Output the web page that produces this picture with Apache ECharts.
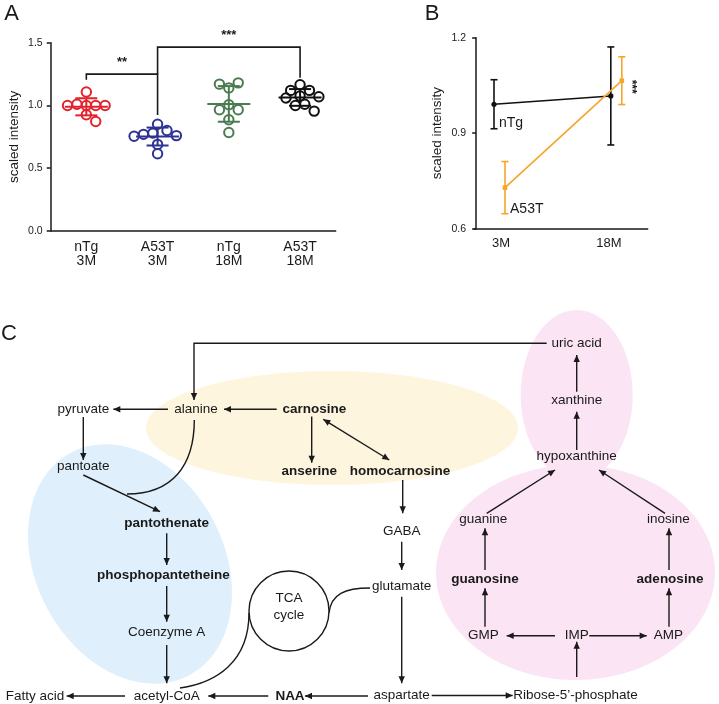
<!DOCTYPE html>
<html><head><meta charset="utf-8">
<script src="https://cdn.jsdelivr.net/npm/echarts@6/dist/echarts.min.js"></script>
<style>html,body{margin:0;padding:0;background:#fff}#c{width:719px;height:704px}</style>
</head><body><div id="c"></div>
<script>
// ---------- Panel A data ----------
const groupLabels = ['nTg\n3M', 'A53T\n3M', 'nTg\n18M', 'A53T\n18M'];
const nTg3M   = [1.107, 1.0, 1.0, 1.01, 1.0, 1.0, 0.926, 0.872];
const a53t3M  = [0.85, 0.80, 0.78, 0.77, 0.76, 0.755, 0.69, 0.615];
const nTg18M  = [1.14, 1.18, 1.17, 1.006, 0.966, 0.966, 0.886, 0.785];
const a53t18M = [1.165, 1.12, 1.12, 1.075, 1.07, 1.06, 1.01, 1.0, 0.955];
const yTicksA = [0, 0.5, 1.0, 1.5];
// significance brackets (category indices, levels)
const bracketFrom  = [0, 1];
const bracketTo    = [1, 3];
const bracketLevel = [1.25, 1.465];
const bracketLeftEnd  = [1.205, 1.25];
const bracketRightEnd = [0.925, 1.22];
const bracketLabels = ['**', '***'];

// ---------- Panel B data ----------
const monthsB = [3, 18];
const monthLabelsB = ['3M', '18M'];
const nTgMeanB = [0.991, 1.017];
const nTgErrB  = [0.077, 0.154];
const a53tMeanB = [0.729, 1.065];
const a53tErrB  = [0.082, 0.075];
const seriesNamesB = ['nTg', 'A53T'];
const sigLabelB = '***';

const FONT = '"Liberation Sans", Arial, Helvetica, sans-serif';
const INK = '#1a1a1a';
const groupsData = [nTg3M, a53t3M, nTg18M, a53t18M];
const colorsA = ['#e3232c', '#2e3393', '#4b7c50', '#111111'];
const colorsB = ['#111111', '#f5a52b'];

function mean(a){ return a.reduce((s,v)=>s+v,0)/a.length; }
function sd(a){ const m=mean(a); return Math.sqrt(a.reduce((s,v)=>s+(v-m)*(v-m),0)/(a.length-1)); }

function swarm(api, g){
  const vals = groupsData[g];
  const placed = [];
  const D = 8.8, step = 4.7;
  vals.forEach(v => {
    const p = api.coord([g, v]);
    for (let k = 0; k < 60; k++){
      const off = (k % 2 === 1 ? 1 : -1) * Math.ceil(k/2) * step;
      const x = p[0] + off;
      if (placed.every(q => Math.hypot(q[0]-x, q[1]-p[1]) >= D)) { placed.push([x, p[1]]); break; }
    }
  });
  return placed;
}

const series = [];
groupsData.forEach((vals, g) => {
  series.push({
    type: 'custom', xAxisIndex: 0, yAxisIndex: 0, z: 3,
    data: vals.map((v, i) => [g, v, i]),
    renderItem: function(params, api){
      const pts = swarm(api, g);
      const p = pts[params.dataIndex];
      return {type:'circle', shape:{cx:p[0], cy:p[1], r:4.7},
        style:{fill:'none', stroke:colorsA[g], lineWidth:2}};
    }
  });
});
// mean +- SD
series.push({
  type:'custom', xAxisIndex:0, yAxisIndex:0, z:4,
  data: groupsData.map((vals, g) => [g, mean(vals), sd(vals)]),
  renderItem: function(params, api){
    const g = api.value(0), m = api.value(1), s = api.value(2);
    const c = api.coord([g, m]), t = api.coord([g, m+s]), b = api.coord([g, m-s]);
    const col = colorsA[g];
    const st = {stroke:col, lineWidth:2};
    return {type:'group', children:[
      {type:'line', shape:{x1:c[0]-21.5, y1:c[1], x2:c[0]+21.5, y2:c[1]}, style:st},
      {type:'line', shape:{x1:t[0]-11, y1:t[1], x2:t[0]+11, y2:t[1]}, style:st},
      {type:'line', shape:{x1:b[0]-11, y1:b[1], x2:b[0]+11, y2:b[1]}, style:st},
      {type:'line', shape:{x1:t[0], y1:t[1], x2:b[0], y2:b[1]}, style:st}
    ]};
  }
});
// significance brackets
series.push({
  type:'custom', xAxisIndex:0, yAxisIndex:0, z:4,
  data: bracketFrom.map((f, i) => [f, bracketTo[i], bracketLevel[i], bracketLeftEnd[i], bracketRightEnd[i], i]),
  renderItem: function(params, api){
    const f = api.value(0), t = api.value(1), lv = api.value(2), le = api.value(3), re = api.value(4);
    const i = params.dataIndex;
    const a = api.coord([f, lv]), b = api.coord([t, lv]);
    const la = api.coord([f, le]), rb = api.coord([t, re]);
    return {type:'group', children:[
      {type:'polyline', shape:{points:[[la[0], la[1]],[a[0], a[1]],[b[0], b[1]],[rb[0], rb[1]]]},
        style:{stroke:INK, lineWidth:1.6, fill:null}},
      {type:'text', x:(a[0]+b[0])/2, y:a[1]-5, style:{text:bracketLabels[i], fill:INK,
        font:'bold 13px ' + FONT, align:'center', verticalAlign:'bottom', textAlign:'center', textVerticalAlign:'bottom'}}
    ]};
  }
});

// Panel B
const bData = [[nTgMeanB, nTgErrB, -5.5], [a53tMeanB, a53tErrB, 5.5]];
bData.forEach((d, s) => {
  series.push({
    type:'custom', xAxisIndex:1, yAxisIndex:1, z:3 + s,
    data: monthsB.map((m, i) => [m, d[0][i], d[1][i]]),
    renderItem: function(params, api){
      const i = params.dataIndex;
      const col = colorsB[s];
      const dx = d[2];
      const m = api.value(0), v = api.value(1), e = api.value(2);
      const p = api.coord([m, v]); p[0] += dx;
      const t = api.coord([m, v+e]); const b = api.coord([m, v-e]);
      const st = {stroke:col, lineWidth:1.6};
      const ch = [
        {type:'line', shape:{x1:p[0], y1:t[1], x2:p[0], y2:b[1]}, style:st},
        {type:'line', shape:{x1:p[0]-3.5, y1:t[1], x2:p[0]+3.5, y2:t[1]}, style:st},
        {type:'line', shape:{x1:p[0]-3.5, y1:b[1], x2:p[0]+3.5, y2:b[1]}, style:st}
      ];
      if (i < monthsB.length - 1){
        const n = api.coord([monthsB[i+1], d[0][i+1]]); n[0] += dx;
        ch.push({type:'line', shape:{x1:p[0], y1:p[1], x2:n[0], y2:n[1]}, style:st});
      }
      if (s === 0) ch.push({type:'circle', shape:{cx:p[0], cy:p[1], r:2.6}, style:{fill:col}});
      else ch.push({type:'rect', shape:{x:p[0]-2.3, y:p[1]-2.3, width:4.6, height:4.6}, style:{fill:col}});
      if (i === 0){
        ch.push({type:'text', x:p[0]+5, y:p[1]+(s===0?18.5:21.5), style:{text:seriesNamesB[s], fill:INK,
          font:'14px ' + FONT, align:'left', verticalAlign:'middle', textAlign:'left', textVerticalAlign:'middle'}});
      }
      if (s === 1 && i === monthsB.length - 1){
        ch.push({type:'text', x:p[0]+9, y:p[1]+6, rotation:-Math.PI/2, style:{text:sigLabelB, fill:INK,
          font:'bold 12px ' + FONT, align:'center', verticalAlign:'middle', textAlign:'center', textVerticalAlign:'middle'}});
      }
      return {type:'group', children:ch};
    }
  });
});

// ---------- Panel C diagram ----------
function txt(s, x, y, bold){
  return {type:'text', x:x, y:y, z:10, style:{text:s, fill:INK, font:(bold?'bold ':'') + '13.5px ' + FONT,
    align:'center', verticalAlign:'middle', textAlign:'center', textVerticalAlign:'middle'}};
}
function head(xa, ya, xb, yb){
  const L = 7, W = 3.2;
  const dx = xb-xa, dy = yb-ya, len = Math.hypot(dx, dy), ux = dx/len, uy = dy/len;
  const bx = xb-ux*L, by = yb-uy*L;
  return {type:'polygon', z:6, shape:{points:[[xb,yb],[bx-uy*W, by+ux*W],[bx+uy*W, by-ux*W]]}, style:{fill:INK}};
}
function arrow(x1, y1, x2, y2, both){
  const els = [{type:'line', z:5, shape:{x1:x1, y1:y1, x2:x2, y2:y2}, style:{stroke:INK, lineWidth:1.4}}];
  els.push(head(x1, y1, x2, y2));
  if (both) els.push(head(x2, y2, x1, y1));
  return els;
}
function curve(x1, y1, c1x, c1y, c2x, c2y, x2, y2){
  return {type:'bezierCurve', z:5, shape:{x1:x1, y1:y1, cpx1:c1x, cpy1:c1y, cpx2:c2x, cpy2:c2y, x2:x2, y2:y2},
    style:{stroke:INK, lineWidth:1.4, fill:null}};
}
const BLUE = '#dff0fc', YELLOW = '#fdf5dd', PINK = '#fbe4f4';
const g = [];
// background blobs
g.push({type:'ellipse', z:1, shape:{cx:332, cy:428, rx:186, ry:57}, style:{fill:YELLOW}});
g.push({type:'ellipse', z:1, x:130, y:564, rotation:0.49, shape:{cx:0, cy:0, rx:94, ry:126}, style:{fill:BLUE}});
g.push({type:'ellipse', z:1, shape:{cx:576.7, cy:395, rx:56, ry:85}, style:{fill:PINK}});
g.push({type:'ellipse', z:1, shape:{cx:575.5, cy:572.5, rx:139.5, ry:107.5}, style:{fill:PINK}});
// connectors
g.push({type:'polyline', z:5, shape:{points:[[546.7,343.3],[194,343.3],[194,400]]}, style:{stroke:INK, lineWidth:1.4, fill:null}});
g.push(head(194, 390, 194, 400));
[].concat(
  arrow(168,409.3,113.3,409.3),
  arrow(276.7,409.3,224,409.3),
  arrow(311.7,416.5,311.7,462.7),
  arrow(323.3,419.3,389.3,460,true),
  arrow(83.3,417,83.3,460),
  arrow(83.3,475,160,511.7),
  arrow(576.7,391.7,576.7,355),
  arrow(576.7,450,576.7,411.7),
  arrow(486.7,513.3,555,470),
  arrow(665,513.3,599,470),
  arrow(485,570,485,528.3),
  arrow(669,570,669,528.3),
  arrow(485,626.7,485,588.3),
  arrow(669,626.7,669,588.3),
  arrow(555,635.7,506.7,635.7),
  arrow(589.3,635.7,646.7,635.7),
  arrow(576.7,677,576.7,641.7),
  arrow(431.7,695.5,512.7,695.5),
  arrow(402.7,480,402.7,513.3),
  arrow(401.7,541.7,401.7,570),
  arrow(401.7,596.7,401.7,683.3),
  arrow(368,696,305,696),
  arrow(268.3,696,208.3,696),
  arrow(125,696,66.7,696),
  arrow(166.7,533.3,166.7,565),
  arrow(166.7,586,166.7,621.7),
  arrow(166.7,645,166.7,683.3)
).forEach(e => g.push(e));
g.push(curve(194.3,420, 194.3,466, 172,494, 127,494));
g.push(curve(329,613, 331,594, 345,588, 370,588));
g.push(curve(249,613, 249,662, 216,683, 180,688));
g.push({type:'circle', z:5, shape:{cx:289, cy:611, r:40}, style:{fill:'#ffffff', stroke:INK, lineWidth:1.4}});
// labels
[
  ['uric acid',576.7,343.3],['xanthine',576.7,400],['hypoxanthine',576.7,456.7],
  ['pyruvate',83.3,409.3],['alanine',196,409.3],['carnosine',314.3,409.3,true],
  ['anserine',309.3,471.7,true],['homocarnosine',400,471.7,true],['pantoate',83.3,466.7],
  ['pantothenate',166.7,523.3,true],['phosphopantetheine',163.3,575,true],['Coenzyme A',166.7,632.7],
  ['acetyl-CoA',166.7,696],['Fatty acid',35,696],['NAA',290,696,true],['aspartate',401.7,695.5],
  ['Ribose-5\u2019-phosphate',575.5,695.5],['GABA',401.7,531.7],['glutamate',401.7,586],
  ['guanine',483.3,519.3],['inosine',668.3,519.3],['guanosine',485,579,true],['adenosine',670,579,true],
  ['GMP',483.3,635.7],['IMP',576.7,635.7],['AMP',668.3,635.7],['TCA',289,598.5],['cycle',289,615.5]
].forEach(t => g.push(txt(t[0], t[1], t[2], t[3])));
// panel letters
[['A',11.5,13.5],['B',432,13.5],['C',9,334]].forEach(t => g.push({type:'text', x:t[1], y:t[2], z:10,
  style:{text:t[0], fill:INK, font:'22px ' + FONT, align:'center', verticalAlign:'middle', textAlign:'center', textVerticalAlign:'middle'}}));

const axisLineStyle = {lineStyle:{color:INK, width:1.5}};
const option = {
  animation:false,
  backgroundColor:'#ffffff',
  textStyle:{fontFamily:FONT},
  grid:[
    {left:50.7, top:42.7, width:285, height:188.3},
    {left:474, top:37.7, width:173.7, height:191}
  ],
  xAxis:[
    {type:'category', gridIndex:0, data:groupLabels, boundaryGap:true,
      axisLine:axisLineStyle, axisTick:{alignWithLabel:true, length:4, lineStyle:{color:INK, width:1.5}},
      axisLabel:{fontSize:14, lineHeight:14, color:INK, margin:9, fontFamily:FONT}, splitLine:{show:false}},
    {type:'value', gridIndex:1, min:-0.275, max:22.03,
      axisLine:axisLineStyle, axisTick:{show:false}, splitLine:{show:false},
      axisLabel:{customValues:monthsB, margin:8, fontSize:13, color:INK, fontFamily:FONT,
        formatter: v => { const i = monthsB.indexOf(v); return i === 1 ? '{s|' + monthLabelsB[i] + '}' : '{n|' + monthLabelsB[i] + '}'; },
        rich:{s:{fontSize:13, color:INK, fontFamily:FONT, padding:[0,15,0,0]}, n:{fontSize:13, color:INK, fontFamily:FONT, padding:[0,0,0,3]}}}}
  ],
  yAxis:[
    {type:'value', gridIndex:0, min:yTicksA[0], max:yTicksA[yTicksA.length-1], interval:0.5,
      name:'scaled intensity', nameLocation:'middle', nameGap:29, nameTextStyle:{fontSize:13.5, color:INK, fontFamily:FONT},
      axisLine:{show:true, lineStyle:{color:INK, width:1.5}}, axisTick:{show:true, length:4, lineStyle:{color:INK, width:1.5}},
      axisLabel:{fontSize:10.5, color:INK, margin:8, formatter: v => v.toFixed(1)}, splitLine:{show:false}},
    {type:'value', gridIndex:1, min:0.6, max:1.2, interval:0.3,
      name:'scaled intensity', nameLocation:'middle', nameGap:30, nameTextStyle:{fontSize:13.5, color:INK, fontFamily:FONT},
      axisLine:{show:true, lineStyle:{color:INK, width:1.5}}, axisTick:{show:true, length:4, lineStyle:{color:INK, width:1.5}},
      axisLabel:{fontSize:10.5, color:INK, margin:8, formatter: v => v.toFixed(1)}, splitLine:{show:false}}
  ],
  graphic:{elements:g},
  series:series
};
const chart = echarts.init(document.getElementById('c'), null, {renderer:'canvas'});
chart.setOption(option);
</script></body></html>
